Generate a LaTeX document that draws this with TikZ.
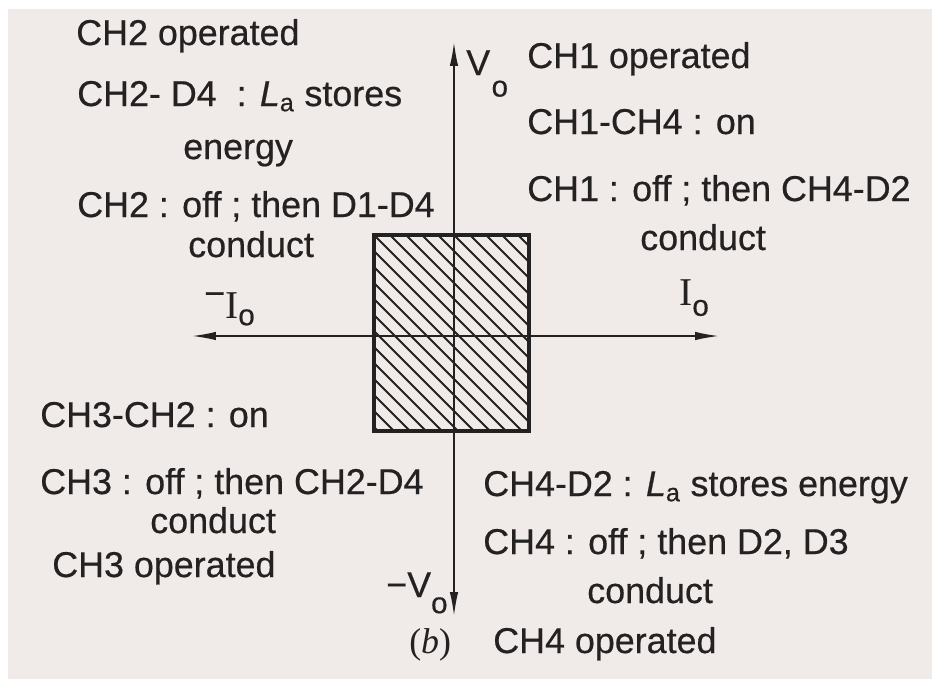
\documentclass[tikz,border=0pt]{standalone}
\usepackage{fontspec}
\setmainfont[FakeBold=0.5]{Liberation Sans}
\newfontfamily\serifI{Liberation Serif}
\usetikzlibrary{arrows.meta}
\definecolor{paper}{RGB}{240,234,233}
\definecolor{ink}{RGB}{35,33,33}
\newcommand{\drop}[2]{\raisebox{-#1}{\fontsize{21}{24}\selectfont #2}}
\tikzset{
  txt/.style={anchor=base west,inner sep=0pt,text=ink,font=\fontsize{25.5}{30}\selectfont},
  axis/.style={draw=ink,line width=1.2pt,{Latex[length=17pt,width=6pt]}-{Latex[length=17pt,width=6pt]}},
  hatch/.style={draw=ink,line width=1.3pt},
  frame/.style={draw=ink,line width=2.6pt}
}
\begin{document}
\begin{tikzpicture}[x=0.025cm,y=-0.025cm]
\useasboundingbox (0,0) rectangle (932,679);
\fill[white] (0,0) rectangle (932,679);
\fill[paper] (8,9) rectangle (932,679);
% axes
\coordinate (vtop) at (454,42);
\coordinate (vbot) at (454,616);
\coordinate (hleft) at (192,336);
\coordinate (hright) at (719,336);
% shaded region
\begin{scope}
\clip (374,235) rectangle (529,431);
\foreach \k in {-12,...,9}
  \draw[hatch] (374+\k*16,235) -- ++(200,200);
\end{scope}
\draw[frame] (374,235) rectangle (529,431);
\draw[axis] (vbot) -- (vtop);
\draw[axis] (hleft) -- (hright);
% second quadrant
\node[txt] (ch2op) at (76,45) {CH2 operated};
\node[txt] (ch2d4) at (77,106) {CH2- D4\ \ : \textit{L}\textsubscript{a} stores};
\node[txt] (ch2en) at (183,159) {energy};
\node[txt] (ch2off) at (77,217) {CH2 : off ; then D1-D4};
\node[txt] (ch2cd) at (188,257) {conduct};
\node[txt] (negI) at (204,318) {\raisebox{0.35em}{−}{\serifI\fontsize{28}{30}\selectfont I}\drop{0.2em}{o}};
% first quadrant
\node[txt] (vlbl) at (466,75) {V\kern1pt\drop{0.6em}{o}};
\node[txt] (ch1op) at (527,68) {CH1 operated};
\node[txt] (ch1on) at (527,134) {CH1-CH4 : on};
\node[txt] (ch1off) at (527,201) {CH1 : off ; then CH4-D2};
\node[txt] (ch1cd) at (640,250) {conduct};
\node[txt] (posI) at (679,305) {{\serifI\fontsize{28}{30}\selectfont I}\drop{0.3em}{o}};
% third quadrant
\node[txt] (ch3on) at (40,427) {CH3-CH2 : on};
\node[txt] (ch3off) at (40,494) {CH3 : off ; then CH2-D4};
\node[txt] (ch3cd) at (150,533) {conduct};
\node[txt] (ch3op) at (52,577) {CH3 operated};
\node[txt] (negV) at (386,597) {−V\drop{0.45em}{o}};
% fourth quadrant
\node[txt] (ch4la) at (483,496) {CH4-D2 : \textit{L}\textsubscript{a} stores energy};
\node[txt] (ch4off) at (483,554) {CH4 : off ; then D2, D3};
\node[txt] (ch4cd) at (587,603) {conduct};
\node[txt] (ch4op) at (493,653) {CH4 operated};
\node[txt] (figb) at (409,653) {{\serifI(\textit{b})}};
\end{tikzpicture}
\end{document}
